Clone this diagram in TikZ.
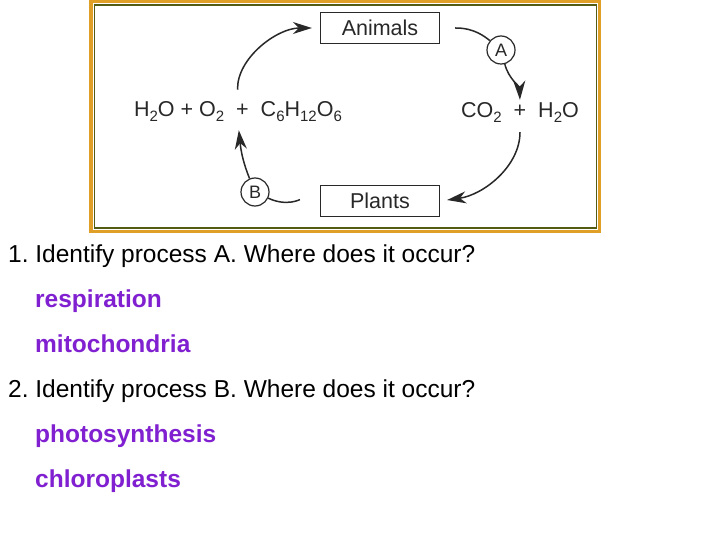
\documentclass[tikz,border=0pt]{standalone}
\usepackage{fontspec}
\setmainfont{Liberation Sans}
\usetikzlibrary{arrows.meta}
\frenchspacing

\definecolor{frameorange}{RGB}{224,160,40}
\definecolor{frameolive}{RGB}{84,92,20}
\definecolor{inkgray}{RGB}{40,40,40}
\definecolor{answerpurple}{RGB}{128,32,208}

\newcommand\chemsub[1]{\raisebox{-5pt}{\fontsize{15}{15}\selectfont #1}}

\tikzset{
  organism/.style={draw=inkgray, line width=1.3pt, minimum width=119pt, minimum height=31pt,
    inner sep=0pt, font=\fontsize{21.5}{23}\selectfont, text=inkgray},
  chem/.style={inner sep=0pt, font=\fontsize{21.5}{23}\selectfont, text=inkgray},
  process/.style={draw=inkgray, circle, line width=1.2pt, minimum size=28pt, inner sep=0pt,
    font=\fontsize{18}{19}\selectfont, text=inkgray},
  cycle/.style={draw=inkgray, line width=1.5pt},
  cyclearrow/.style={cycle, -{Stealth[length=19pt,width=12pt,inset=6pt]}},
  question/.style={anchor=base west, inner sep=0pt, font=\fontsize{24.5}{26}\selectfont},
  answer/.style={question, text=answerpurple, font=\fontsize{24.5}{26}\selectfont\bfseries}
}

\begin{document}
\begin{tikzpicture}[x=1pt, y=-1pt]
  \useasboundingbox (0,0) rectangle (720,540);
  \fill[white] (0,0) rectangle (720,540);

  % frame of the diagram
  \draw[frameorange, line width=3.5pt] (91,1.5) rectangle (599.5,231.5);
  \draw[frameolive, line width=1.8pt] (94.5,5) rectangle (596.5,228);

  % cycle
  \node[organism] (animals) at (380,28) {Animals};
  \node[organism] (plants) at (380,201) {Plants};
  \node[chem] (reactants) at (238,112)
    {H\chemsub{2}O + O\chemsub{2} \ + \ C\chemsub{6}H\chemsub{12}O\chemsub{6}};
  \node[chem] (products) at (520,112) {CO\chemsub{2} \ + \ H\chemsub{2}O};
  \node[process] (procA) at (501,50) {A};
  \node[process] (procB) at (255,192) {B};

  \draw[cyclearrow, shorten <=12pt, shorten >=8pt] (reactants.north) to[out=92, in=180] (animals.west);
  \draw[cycle, shorten <=15pt] (animals.east) to[out=0, in=140] (procA);
  \draw[cyclearrow, shorten >=2pt] (procA) to[out=-75, in=92] (products.north);
  \draw[cyclearrow, shorten <=10pt, shorten >=7pt] (products.south) to[out=-90, in=8] (plants.east);
  \draw[cycle, shorten <=20pt] (plants.west) to[out=176, in=-25] (procB);
  \draw[cyclearrow, shorten >=8pt] (procB) to[out=112, in=-84] (reactants.south);

  % questions and answers
  \node[question] (q1) at (8,262) {1. Identify process A. Where does it occur?};
  \node[answer] (a1) at (35,307) {respiration};
  \node[answer] (a2) at (35,352) {mitochondria};
  \node[question] (q2) at (8,397) {2. Identify process B. Where does it occur?};
  \node[answer] (b1) at (35,442) {photosynthesis};
  \node[answer] (b2) at (35,487) {chloroplasts};
\end{tikzpicture}
\end{document}
